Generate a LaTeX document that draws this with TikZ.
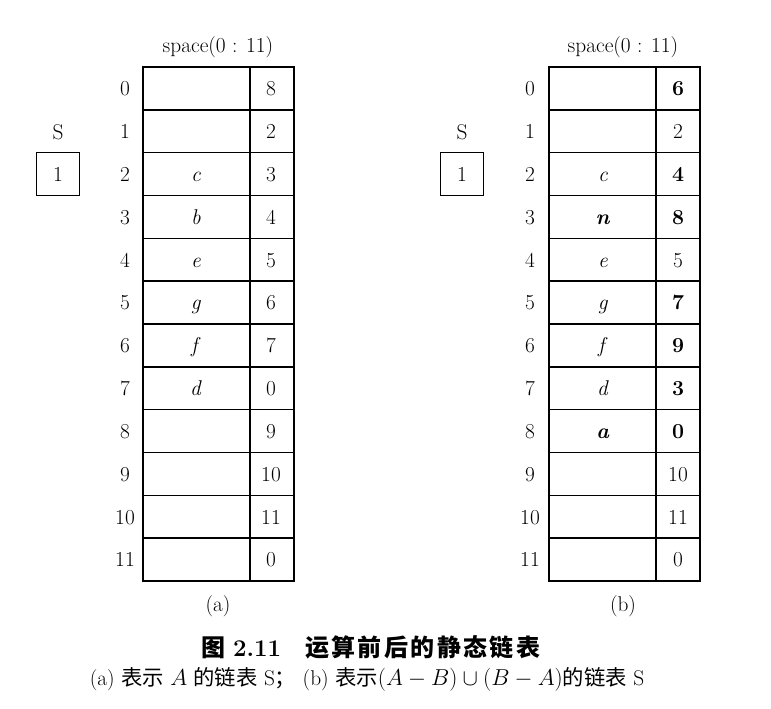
\documentclass[tikz,border=0pt]{standalone}
\usepackage{fontspec}
\newfontfamily\cjk{Noto Sans CJK SC}
\begin{document}
\begin{tikzpicture}[x=0.75pt, y=-0.75pt,
  grid/.style={line width=1.1pt},
  txt/.style={font=\fontsize{16}{19}\selectfont, inner sep=0pt, text height=11pt, text depth=0pt},
  sbox/.style={draw, line width=1.1pt, minimum width=32pt, minimum height=32pt, inner sep=0pt, font=\fontsize{16}{19}\selectfont}]

\useasboundingbox (0,0) rectangle (771,708);

\pgfmathsetmacro{\rh}{514/12}

%cells of both tables
\foreach \x in {143,549}{
  \draw[grid] (\x,67) rectangle ++(151,514);
  \draw[grid] (\x+107,67) -- ++(0,514);
  \foreach \k in {1,...,11}
    \draw[grid] (\x,{67+\k*\rh}) -- ++(151,0);
}

%table (a)
\node[txt] (ahead) at (218,45) {space(0 : 11)};
\foreach \i/\d/\n in {0//8,1//2,2/c/3,3/b/4,4/e/5,5/g/6,6/f/7,7/d/0,8//9,9//10,10//11,11//0}{
  \node[txt] (ai\i) at (125,{67+(\i+0.5)*\rh}) {\i};
  \node[txt] (ad\i) at (196,{67+(\i+0.5)*\rh}) {\textit{\d}};
  \node[txt] (an\i) at (271,{67+(\i+0.5)*\rh}) {\n};
}
\node[txt] (aS) at (58,132) {S};
\node[sbox] (aSbox) at (58,174) {1};
\node[txt] (alab) at (218,604) {(a)};

%table (b)
\node[txt] (bhead) at (623,45) {space(0 : 11)};
\foreach \i/\d/\n in {0//\textbf{6},1//2,2/c/\textbf{4},3/\textbf{n}/\textbf{8},4/e/5,5/g/\textbf{7},6/f/\textbf{9},7/d/\textbf{3},8/\textbf{a}/\textbf{0},9//10,10//11,11//0}{
  \node[txt] (bi\i) at (530,{67+(\i+0.5)*\rh}) {\i};
  \node[txt] (bd\i) at (603,{67+(\i+0.5)*\rh}) {\textit{\d}};
  \node[txt] (bn\i) at (678,{67+(\i+0.5)*\rh}) {\n};
}
\node[txt] (bS) at (462,132) {S};
\node[sbox] (bSbox) at (462,174) {1};
\node[txt] (blab) at (623,604) {(b)};

%caption
\node (title) at (371,647) {\fontsize{18}{21}\selectfont{\cjk\bfseries 图} \textbf{2.11}\quad{\cjk\bfseries\addfontfeature{LetterSpace=10} 运算前后的静态链表}};
\node (note) at (367,679) {\fontsize{16}{19}\selectfont (a) {\cjk 表示} $A$ {\cjk 的链表} S{\cjk ；} (b) {\cjk 表示}$(A-B)\cup(B-A)${\cjk 的链表} S};

\end{tikzpicture}
\end{document}
